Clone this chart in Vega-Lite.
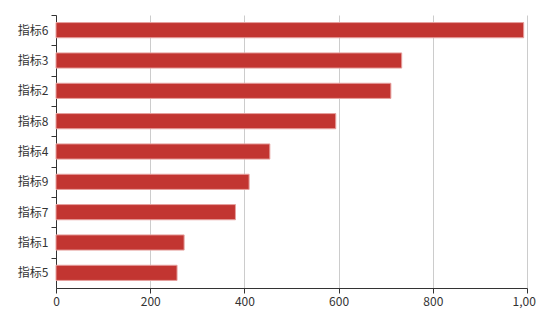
{
  "$schema": "https://vega.github.io/schema/vega-lite/v6.json",
  "autosize": "none",
  "width": 471,
  "height": 273,
  "padding": {"left": 56, "top": 15, "right": 9, "bottom": 32},
  "background": "#ffffff",
  "config": {"view": {"stroke": null}, "font": "Noto Sans CJK SC"},
  "data": {"values": [
    {"name": "指标6", "value": 993},
    {"name": "指标3", "value": 734},
    {"name": "指标2", "value": 711},
    {"name": "指标8", "value": 594},
    {"name": "指标4", "value": 454},
    {"name": "指标9", "value": 410},
    {"name": "指标7", "value": 381},
    {"name": "指标1", "value": 272},
    {"name": "指标5", "value": 257}
  ]},
  "mark": {"type": "bar", "color": "#c23531", "stroke": "#e6a09e", "strokeWidth": 1},
  "encoding": {
    "y": {
      "field": "name", "type": "nominal",
      "sort": {"field": "value", "order": "descending"},
      "scale": {"paddingInner": 0.5, "paddingOuter": 0.25},
      "axis": {
        "title": null, "tickOffset": -15.17, "labelOffset": 15.17, "domainColor": "#333333", "tickColor": "#333333",
        "tickSize": 5, "labelPadding": 3, "labelFontSize": 12, "labelColor": "#333333",
        "labelFont": "Noto Sans CJK SC", "grid": false
      }
    },
    "x": {
      "field": "value", "type": "quantitative",
      "scale": {"domain": [0, 1000], "nice": false},
      "axis": {
        "title": null, "values": [0, 200, 400, 600, 800, 1000], "format": ",d",
        "domainColor": "#333333", "tickColor": "#333333", "tickSize": 5,
        "labelFontSize": 12, "labelColor": "#333333", "labelPadding": 3,
        "labelFont": "Noto Sans CJK SC",
        "grid": true, "gridColor": "#cccccc", "labelFlush": false
      }
    }
  }
}
